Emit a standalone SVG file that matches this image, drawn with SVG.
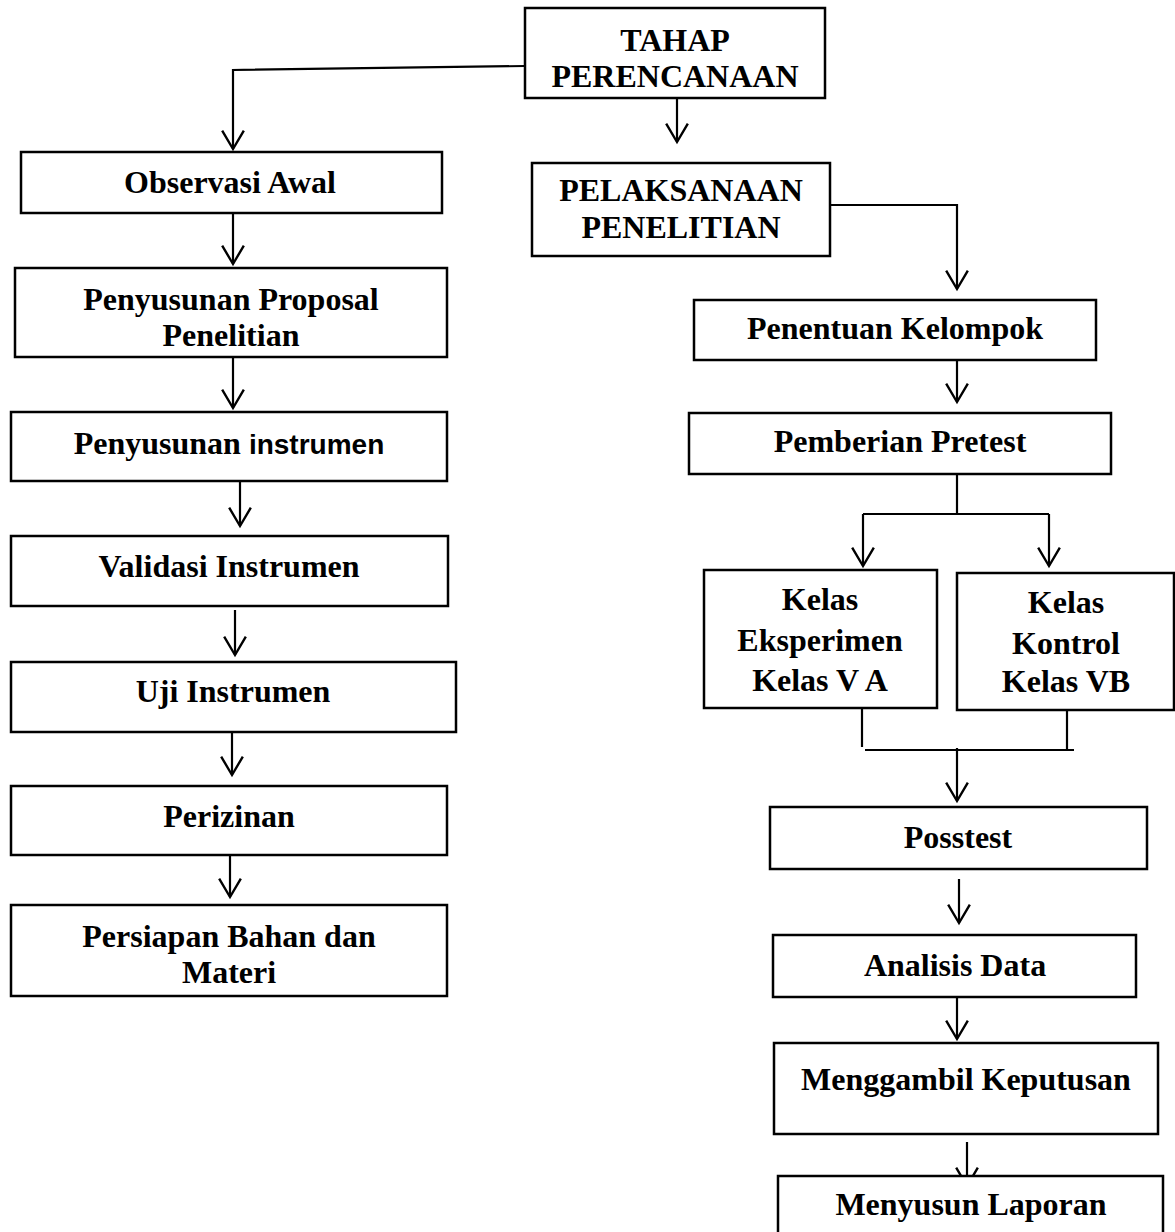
<svg xmlns="http://www.w3.org/2000/svg" width="1175" height="1232" viewBox="0 0 1175 1232">
<style>
.box{fill:#fff;stroke:#000;stroke-width:2.5}
.t{font-family:"Liberation Serif","Times New Roman",serif;font-weight:bold;font-size:32px;text-anchor:middle;fill:#000}
.sans{font-family:"Liberation Sans",Arial,sans-serif;font-size:28px}
.c{fill:none;stroke:#000;stroke-width:2.2}
</style>
<defs>
<marker id="ah" markerUnits="userSpaceOnUse" markerWidth="24" markerHeight="26" viewBox="-19 -12 22 24" refX="0" refY="0" orient="auto">
<path d="M-17,-10 L0,0 L-17,10" fill="none" stroke="#000" stroke-width="2.2"/>
</marker>
</defs>
<rect width="1175" height="1232" fill="#fff"/>
<g id="connectors">
<polyline class="c" points="525,66 233,70 233,149" marker-end="url(#ah)"/>
<line class="c" x1="677" y1="98" x2="677" y2="142" marker-end="url(#ah)"/>
<line class="c" x1="233" y1="213" x2="233" y2="264" marker-end="url(#ah)"/>
<line class="c" x1="233" y1="357" x2="233" y2="408" marker-end="url(#ah)"/>
<line class="c" x1="240" y1="482" x2="240" y2="526" marker-end="url(#ah)"/>
<line class="c" x1="235" y1="610" x2="235" y2="655" marker-end="url(#ah)"/>
<line class="c" x1="232" y1="730" x2="232" y2="775" marker-end="url(#ah)"/>
<line class="c" x1="230" y1="853" x2="230" y2="897" marker-end="url(#ah)"/>
<polyline class="c" points="830,205 957,205 957,289" marker-end="url(#ah)"/>
<line class="c" x1="957" y1="359" x2="957" y2="402" marker-end="url(#ah)"/>
<line class="c" x1="957" y1="474" x2="957" y2="514"/>
<line class="c" x1="863" y1="514" x2="1049" y2="514"/>
<line class="c" x1="863" y1="514" x2="863" y2="566" marker-end="url(#ah)"/>
<line class="c" x1="1049" y1="514" x2="1049" y2="566" marker-end="url(#ah)"/>
<line class="c" x1="862" y1="708" x2="862" y2="747"/>
<line class="c" x1="1067" y1="710" x2="1067" y2="750"/>
<line class="c" x1="865" y1="750" x2="1074" y2="750"/>
<line class="c" x1="957" y1="748" x2="957" y2="801" marker-end="url(#ah)"/>
<line class="c" x1="959" y1="879" x2="959" y2="923" marker-end="url(#ah)"/>
<line class="c" x1="957" y1="997" x2="957" y2="1039" marker-end="url(#ah)"/>
<line class="c" x1="967" y1="1142" x2="967" y2="1186" marker-end="url(#ah)"/>
</g>
<g id="tahap-perencanaan">
<rect class="box" x="525" y="8" width="300" height="90"/>
<text class="t" x="675" y="51">TAHAP</text>
<text class="t" x="675" y="87">PERENCANAAN</text>
</g>
<g id="observasi-awal">
<rect class="box" x="21" y="152" width="421" height="61"/>
<text class="t" x="230" y="193">Observasi Awal</text>
</g>
<g id="penyusunan-proposal">
<rect class="box" x="15" y="268" width="432" height="89"/>
<text class="t" x="231" y="310">Penyusunan Proposal</text>
<text class="t" x="231" y="346">Penelitian</text>
</g>
<g id="penyusunan-instrumen">
<rect class="box" x="11" y="412" width="436" height="69"/>
<text class="t" x="229" y="454">Penyusunan <tspan class="sans">instrumen</tspan></text>
</g>
<g id="validasi-instrumen">
<rect class="box" x="11" y="536" width="437" height="70"/>
<text class="t" x="229" y="577">Validasi Instrumen</text>
</g>
<g id="uji-instrumen">
<rect class="box" x="11" y="662" width="445" height="70"/>
<text class="t" x="233" y="702">Uji Instrumen</text>
</g>
<g id="perizinan">
<rect class="box" x="11" y="786" width="436" height="69"/>
<text class="t" x="229" y="827">Perizinan</text>
</g>
<g id="persiapan-bahan">
<rect class="box" x="11" y="905" width="436" height="91"/>
<text class="t" x="229" y="947">Persiapan Bahan dan</text>
<text class="t" x="229" y="983">Materi</text>
</g>
<g id="pelaksanaan-penelitian">
<rect class="box" x="532" y="163" width="298" height="93"/>
<text class="t" x="681" y="201">PELAKSANAAN</text>
<text class="t" x="681" y="238">PENELITIAN</text>
</g>
<g id="penentuan-kelompok">
<rect class="box" x="694" y="300" width="402" height="60"/>
<text class="t" x="895" y="339">Penentuan Kelompok</text>
</g>
<g id="pemberian-pretest">
<rect class="box" x="689" y="413" width="422" height="61"/>
<text class="t" x="900" y="452">Pemberian Pretest</text>
</g>
<g id="kelas-eksperimen">
<rect class="box" x="704" y="570" width="233" height="138"/>
<text class="t" x="820" y="610">Kelas</text>
<text class="t" x="820" y="651">Eksperimen</text>
<text class="t" x="820" y="691">Kelas V A</text>
</g>
<g id="kelas-kontrol">
<rect class="box" x="957" y="573" width="217" height="137"/>
<text class="t" x="1066" y="613">Kelas</text>
<text class="t" x="1066" y="654">Kontrol</text>
<text class="t" x="1066" y="692">Kelas VB</text>
</g>
<g id="posstest">
<rect class="box" x="770" y="807" width="377" height="62"/>
<text class="t" x="958" y="848">Posstest</text>
</g>
<g id="analisis-data">
<rect class="box" x="773" y="935" width="363" height="62"/>
<text class="t" x="955" y="976">Analisis Data</text>
</g>
<g id="menggambil-keputusan">
<rect class="box" x="774" y="1043" width="384" height="91"/>
<text class="t" x="966" y="1090">Menggambil Keputusan</text>
</g>
<g id="menyusun-laporan">
<rect class="box" x="778" y="1176" width="385" height="80"/>
<text class="t" x="971" y="1215">Menyusun Laporan</text>
</g>
</svg>
